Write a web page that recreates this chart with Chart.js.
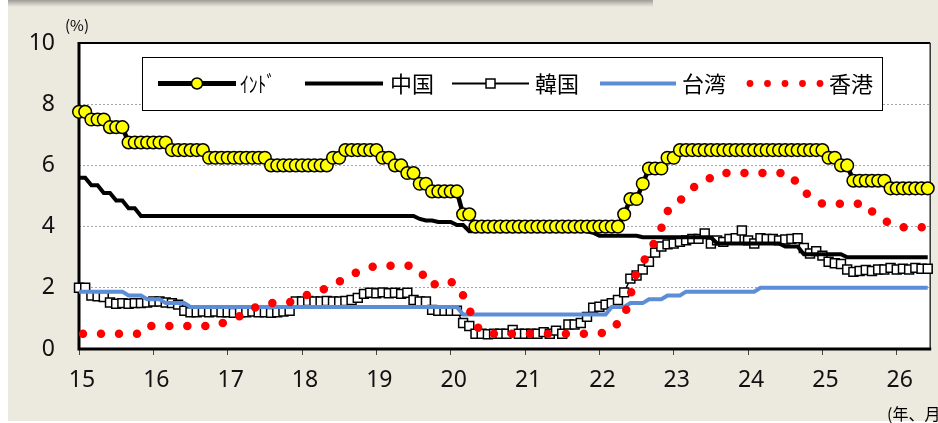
<!DOCTYPE html>
<html><head><meta charset="utf-8">
<script src="https://cdn.jsdelivr.net/npm/chart.js@4.4.1/dist/chart.umd.min.js"></script>
<style>
html,body{margin:0;padding:0;background:#fff;}
#wrap{position:relative;width:938px;height:423px;overflow:hidden;background:#fff;}
#panel{position:absolute;left:8px;top:0;width:930px;height:421px;background:#ECE9DF;}
#strip{position:absolute;left:8px;top:0;width:645px;height:7px;background:linear-gradient(to bottom,#9c9a95 0%,#c4c2bb 45%,#ECE9DF 100%);}
#c{position:absolute;left:0;top:0;}
.lbl{position:absolute;font-family:"Noto Sans CJK JP";color:#000;white-space:nowrap;}
</style></head><body>
<div id="wrap">
<div id="panel"></div><div id="strip"></div>
<canvas id="c" width="938" height="423"></canvas>
<div class="lbl" style="left:65px;top:17px;font-size:15px;line-height:15px;">(%)</div>
<div class="lbl" style="left:887px;top:405px;font-size:16px;line-height:16px;">(年、月)</div>
</div>
<script>
// ---- data (monthly, Jan 2015 .. Jun 2026) ----
const xTickLabels = ['15','16','17','18','19','20','21','22','23','24','25','26'];
const yTickLabels = ['0','2','4','6','8','10'];
const seriesNames = ['ｲﾝﾄﾞ','中国','韓国','台湾','香港'];

const india = [
7.75,7.75,7.5,7.5,7.5,7.25,7.25,7.25,6.75,6.75,6.75,6.75,
6.75,6.75,6.75,6.5,6.5,6.5,6.5,6.5,6.5,6.25,6.25,6.25,
6.25,6.25,6.25,6.25,6.25,6.25,6.25,6,6,6,6,6,
6,6,6,6,6,6.25,6.25,6.5,6.5,6.5,6.5,6.5,
6.5,6.25,6.25,6,6,5.75,5.75,5.4,5.4,5.15,5.15,5.15,
5.15,5.15,4.4,4.4,4,4,4,4,4,4,4,4,
4,4,4,4,4,4,4,4,4,4,4,4,
4,4,4,4,4.4,4.9,4.9,5.4,5.9,5.9,5.9,6.25,
6.25,6.5,6.5,6.5,6.5,6.5,6.5,6.5,6.5,6.5,6.5,6.5,
6.5,6.5,6.5,6.5,6.5,6.5,6.5,6.5,6.5,6.5,6.5,6.5,
6.5,6.25,6.25,6,6,5.5,5.5,5.5,5.5,5.5,5.5,5.25,
5.25,5.25,5.25,5.25,5.25,5.25];

const china = [
5.6,5.6,5.35,5.35,5.1,5.1,4.85,4.85,4.6,4.6,4.35,4.35,
4.35,4.35,4.35,4.35,4.35,4.35,4.35,4.35,4.35,4.35,4.35,4.35,
4.35,4.35,4.35,4.35,4.35,4.35,4.35,4.35,4.35,4.35,4.35,4.35,
4.35,4.35,4.35,4.35,4.35,4.35,4.35,4.35,4.35,4.35,4.35,4.35,
4.35,4.35,4.35,4.35,4.35,4.35,4.35,4.25,4.2,4.2,4.15,4.15,
4.15,4.05,4.05,3.85,3.85,3.85,3.85,3.85,3.85,3.85,3.85,3.85,
3.85,3.85,3.85,3.85,3.85,3.85,3.85,3.85,3.85,3.85,3.85,3.8,
3.7,3.7,3.7,3.7,3.7,3.7,3.7,3.65,3.65,3.65,3.65,3.65,
3.65,3.65,3.65,3.65,3.65,3.65,3.65,3.45,3.45,3.45,3.45,3.45,
3.45,3.45,3.45,3.45,3.45,3.45,3.35,3.35,3.35,3.1,3.1,3.1,
3.1,3.1,3.1,3.1,3,3,3,3,3,3,3,3,
3,3,3,3,3,3];

const korea = [
2.0,2.0,1.75,1.72,1.7,1.52,1.48,1.5,1.48,1.5,1.5,1.52,
1.55,1.55,1.52,1.5,1.45,1.25,1.2,1.2,1.22,1.2,1.22,1.2,
1.2,1.18,1.2,1.2,1.22,1.2,1.2,1.18,1.2,1.22,1.25,1.55,
1.55,1.57,1.55,1.55,1.57,1.55,1.55,1.57,1.6,1.67,1.8,1.84,
1.82,1.85,1.82,1.84,1.8,1.84,1.6,1.55,1.55,1.28,1.25,1.25,
1.25,1.25,0.85,0.75,0.5,0.5,0.48,0.5,0.5,0.5,0.62,0.5,
0.5,0.5,0.5,0.55,0.5,0.6,0.5,0.8,0.8,0.85,1.05,1.35,
1.38,1.45,1.5,1.6,1.85,2.3,2.4,2.6,2.85,3.15,3.35,3.42,
3.45,3.5,3.55,3.6,3.6,3.78,3.45,3.55,3.5,3.6,3.62,3.87,
3.55,3.45,3.62,3.6,3.6,3.55,3.58,3.6,3.62,3.3,3.12,3.2,
3.05,2.85,2.8,2.78,2.6,2.52,2.55,2.58,2.55,2.6,2.6,2.65,
2.6,2.62,2.6,2.65,2.62,2.62];

const taiwan = [
1.875,1.875,1.875,1.875,1.875,1.875,1.875,1.875,1.75,1.75,1.75,1.625,
1.625,1.625,1.5,1.5,1.5,1.5,1.375,1.375,1.375,1.375,1.375,1.375,
1.375,1.375,1.375,1.375,1.375,1.375,1.375,1.375,1.375,1.375,1.375,1.375,
1.375,1.375,1.375,1.375,1.375,1.375,1.375,1.375,1.375,1.375,1.375,1.375,
1.375,1.375,1.375,1.375,1.375,1.375,1.375,1.375,1.375,1.375,1.375,1.375,
1.375,1.375,1.125,1.125,1.125,1.125,1.125,1.125,1.125,1.125,1.125,1.125,
1.125,1.125,1.125,1.125,1.125,1.125,1.125,1.125,1.125,1.125,1.125,1.125,
1.125,1.125,1.375,1.375,1.375,1.5,1.5,1.5,1.625,1.625,1.625,1.75,
1.75,1.75,1.875,1.875,1.875,1.875,1.875,1.875,1.875,1.875,1.875,1.875,
1.875,1.875,2,2,2,2,2,2,2,2,2,2,
2,2,2,2,2,2,2,2,2,2,2,2,
2,2,2,2,2,2];

const hongkong = [
0.5,0.5,0.5,0.5,0.5,0.5,0.5,0.5,0.5,0.5,0.5,0.75,
0.75,0.75,0.75,0.75,0.75,0.75,0.75,0.75,0.75,0.75,0.75,0.83,
0.92,0.99,1.08,1.17,1.3,1.42,1.47,1.5,1.5,1.5,1.53,1.62,
1.7,1.78,1.85,1.93,1.98,2.07,2.2,2.3,2.42,2.52,2.6,2.67,
2.72,2.72,2.72,2.72,2.72,2.72,2.72,2.55,2.3,2.05,2.2,2.2,
2.2,2.1,1.75,1.3,0.8,0.55,0.5,0.5,0.5,0.5,0.5,0.5,
0.5,0.5,0.5,0.5,0.5,0.5,0.5,0.5,0.5,0.5,0.5,0.5,
0.5,0.55,0.62,0.85,1.05,1.75,2.5,2.85,3.1,3.55,3.95,4.5,
4.75,4.85,5.05,5.25,5.4,5.5,5.6,5.73,5.75,5.75,5.75,5.75,
5.75,5.75,5.75,5.75,5.75,5.75,5.75,5.7,5.35,5.15,5.0,4.85,
4.75,4.75,4.75,4.75,4.75,4.75,4.75,4.75,4.5,4.35,4.2,4.1,
4.0,3.98,3.98,3.98,3.98,3.98];

const startYear = 15;           // first month = Jan 2015 at x = 15
const toPts = arr => arr.map((v, i) => ({x: startYear + i / 12, y: v}));

const BLUE = '#5B8ED6';
const FONT_NUM = '"Noto Sans", sans-serif';
const FONT_JP = '"Noto Sans CJK JP", sans-serif';

const framePlugin = {
  id: 'frame',
  beforeDraw(chart) {
    const {ctx, chartArea: a} = chart;
    ctx.save();
    ctx.fillStyle = '#fff';
    ctx.fillRect(a.left, a.top, a.right - a.left, a.bottom - a.top);
    ctx.restore();
  },
  beforeDatasetsDraw(chart) {
    const {ctx, chartArea: a} = chart;
    ctx.save();
    ctx.strokeStyle = '#000';
    ctx.lineWidth = 2;
    ctx.beginPath(); ctx.moveTo(a.left, a.top); ctx.lineTo(a.right, a.top); ctx.stroke();
    ctx.strokeStyle = '#333'; ctx.lineWidth = 1.5;
    ctx.beginPath(); ctx.moveTo(a.right, a.top); ctx.lineTo(a.right, a.bottom); ctx.stroke();
    ctx.strokeStyle = '#000'; ctx.lineWidth = 3;
    ctx.beginPath(); ctx.moveTo(a.left, a.top - 1); ctx.lineTo(a.left, a.bottom); ctx.lineTo(a.right + 1, a.bottom); ctx.stroke();
    ctx.restore();
  },
  afterDraw(chart) {
    const ctx = chart.ctx;
    const byName = n => chart.data.datasets.find(d => d.label === n);
    const dIn = byName(seriesNames[0]), dCn = byName(seriesNames[1]), dKr = byName(seriesNames[2]),
          dTw = byName(seriesNames[3]), dHk = byName(seriesNames[4]);
    ctx.save();
    ctx.fillStyle = '#fff';
    ctx.fillRect(142, 57, 740, 53);
    ctx.strokeStyle = '#000'; ctx.lineWidth = 1;
    ctx.strokeRect(142.5, 57.5, 740, 53);
    const cy = 83.5;
    const seg = (x0, x1, col, w) => { ctx.strokeStyle = col; ctx.lineWidth = w; ctx.lineCap = 'butt';
      ctx.beginPath(); ctx.moveTo(x0, cy); ctx.lineTo(x1, cy); ctx.stroke(); };
    // India
    seg(158, 236, dIn.borderColor, 5);
    ctx.beginPath(); ctx.arc(197, cy, 5.5, 0, Math.PI * 2);
    ctx.fillStyle = dIn.pointBackgroundColor; ctx.fill();
    ctx.lineWidth = 1.5; ctx.strokeStyle = dIn.pointBorderColor; ctx.stroke();
    // China
    seg(305, 383, dCn.borderColor, 4);
    // Korea
    seg(452, 529, dKr.borderColor, 2);
    ctx.fillStyle = dKr.pointBackgroundColor; ctx.fillRect(486, cy - 4.5, 9, 9);
    ctx.lineWidth = 1.5; ctx.strokeStyle = dKr.pointBorderColor; ctx.strokeRect(486, cy - 4.5, 9, 9);
    // Taiwan
    seg(600, 676, dTw.borderColor, 4);
    // Hong Kong
    ctx.fillStyle = dHk.borderColor;
    for (let k = 0; k < 5; k++) { ctx.beginPath(); ctx.arc(750 + k * 17.5, cy, 3.4, 0, Math.PI * 2); ctx.fill(); }
    // texts
    ctx.fillStyle = '#000';
    ctx.font = '22px ' + FONT_JP;
    ctx.textBaseline = 'middle';
    ctx.textAlign = 'left';
    ctx.save(); ctx.translate(240, cy); ctx.scale(0.8, 1); ctx.fillText(seriesNames[0], 0, 0); ctx.restore();
    ctx.fillText(seriesNames[1], 390, cy);
    ctx.fillText(seriesNames[2], 535, cy);
    ctx.fillText(seriesNames[3], 682, cy);
    ctx.fillText(seriesNames[4], 829, cy);
    ctx.restore();
  }
};

new Chart(document.getElementById('c'), {
  type: 'line',
  data: {
    datasets: [
      {label: seriesNames[4], data: toPts(hongkong), borderColor: '#FF0000', borderWidth: 8.5,
       borderDash: [0, 18], borderDashOffset: 14, borderCapStyle: 'round', borderJoinStyle: 'round',
       pointRadius: 0, fill: false, clip: false, order: 0},
      {label: seriesNames[3], data: toPts(taiwan), borderColor: BLUE, borderWidth: 4,
       pointRadius: 0, fill: false, clip: false, order: 1},
      {label: seriesNames[0], data: toPts(india), borderColor: '#000', borderWidth: 4.5,
       pointStyle: 'circle', pointRadius: 6.3, pointBackgroundColor: '#FFFF00', pointBorderColor: '#000',
       pointBorderWidth: 1.5, fill: false, clip: false, order: 2},
      {label: seriesNames[1], data: toPts(china), borderColor: '#000', borderWidth: 4,
       pointRadius: 0, fill: false, clip: false, order: 3},
      {label: seriesNames[2], data: toPts(korea), borderColor: '#000', borderWidth: 1.5,
       pointStyle: 'rect', pointRadius: 6.3, pointBackgroundColor: '#fff', pointBorderColor: '#000',
       pointBorderWidth: 1.5, fill: false, clip: false, order: 4}
    ]
  },
  options: {
    responsive: false, maintainAspectRatio: false, devicePixelRatio: 1,
    animation: false, events: [],
    layout: {padding: {left: 0, top: 43, right: 3, bottom: 0}},
    plugins: {legend: {display: false}, tooltip: {enabled: false}, title: {display: false}},
    scales: {
      x: {
        type: 'linear', min: 15, max: 26.45,
        afterFit(s) { s.height = 74; },
        border: {display: false},
        grid: {display: true, drawOnChartArea: false, drawTicks: true, tickLength: 6, color: '#444', lineWidth: 1},
        ticks: {
          stepSize: 1, includeBounds: false, autoSkip: false, maxRotation: 0, padding: 12, labelOffset: 3,
          color: '#111', font: {family: FONT_NUM, size: 23},
          callback: (v) => { const k = Math.round(v) - startYear; return (Number.isInteger(v) && xTickLabels[k]) ? xTickLabels[k] : ''; }
        }
      },
      y: {
        min: 0, max: 10,
        afterFit(s) { s.width = 79; },
        border: {display: false, dash: [2, 2]},
        grid: {drawTicks: false, lineWidth: 1,
               color: (c) => (c.tick && (c.tick.value === 0 || c.tick.value === 10)) ? 'rgba(0,0,0,0)' : '#A6A6A6'},
        ticks: {stepSize: 2, padding: 24, color: '#111', font: {family: FONT_NUM, size: 23},
                callback: (v) => yTickLabels[v / 2] !== undefined ? yTickLabels[v / 2] : ''}
      }
    }
  },
  plugins: [framePlugin]
});
</script>
</body></html>
